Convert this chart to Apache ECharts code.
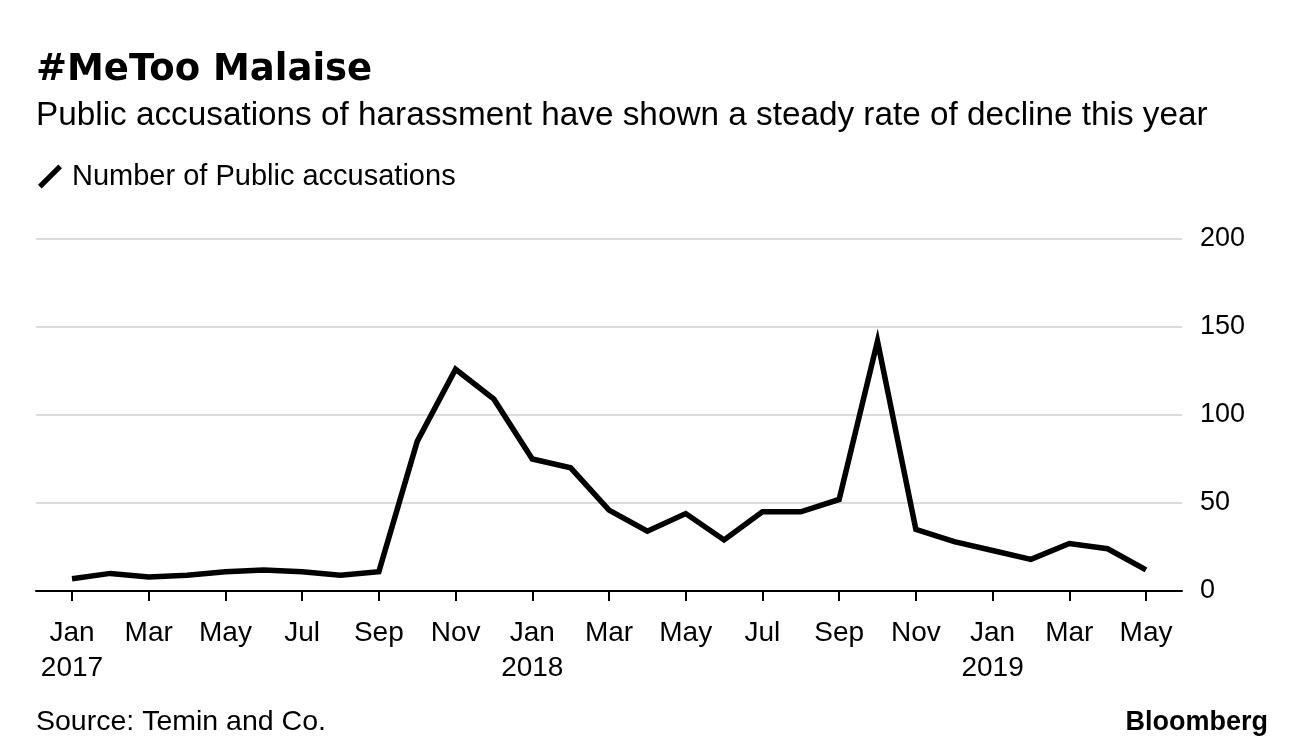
<!DOCTYPE html>
<html>
<head>
<meta charset="utf-8">
<script src="https://cdn.jsdelivr.net/npm/echarts@6/dist/echarts.min.js"></script>
<style>
html,body{margin:0;padding:0;background:#fff;}
#chart{width:1296px;height:754px;}
</style>
</head>
<body>
<div id="chart"></div>
<script>
const titleText = '#MeToo Malaise';
const subtitleText = 'Public accusations of harassment have shown a steady rate of decline this year';
const sourceText = 'Source: Temin and Co.';
const seriesName = 'Number of Public accusations';

const months = ['Jan 2017','Feb 2017','Mar 2017','Apr 2017','May 2017','Jun 2017','Jul 2017','Aug 2017','Sep 2017','Oct 2017','Nov 2017','Dec 2017',
  'Jan 2018','Feb 2018','Mar 2018','Apr 2018','May 2018','Jun 2018','Jul 2018','Aug 2018','Sep 2018','Oct 2018','Nov 2018','Dec 2018',
  'Jan 2019','Feb 2019','Mar 2019','Apr 2019','May 2019'];
const accusations = [7,10,8,9,11,12,11,9,11,85,126,109,
  75,70,46,34,44,29,45,45,52,142,35,28,
  23,18,27,24,12];
const xTickLabels = ['Jan\n2017','Mar','May','Jul','Sep','Nov','Jan\n2018','Mar','May','Jul','Sep','Nov','Jan\n2019','Mar','May'];
const xTickMonths = ['Jan 2017','Mar 2017','May 2017','Jul 2017','Sep 2017','Nov 2017','Jan 2018','Mar 2018','May 2018','Jul 2018','Sep 2018','Nov 2018','Jan 2019','Mar 2019','May 2019'];
const yTicks = [0,50,100,150,200];

const FONT = "'Liberation Sans', Arial, Helvetica, sans-serif";
const tickIdx = xTickMonths.map(m => months.indexOf(m));
const pad = 0.9385;

const chart = echarts.init(document.getElementById('chart'), null, {renderer:'canvas'});
chart.setOption({
  animation: false,
  backgroundColor: '#fff',
  textStyle: {fontFamily: FONT, color: '#000'},
  title: [
    {text: titleText, left: 36, top: 52, padding: 0,
     textStyle: {fontFamily: "'DejaVu Sans', sans-serif", fontWeight: 'bold', fontSize: 37, color: '#000'}},
    {text: subtitleText, left: 36, top: 99, padding: 0,
     textStyle: {fontFamily: FONT, fontWeight: 'normal', fontSize: 33.3, color: '#000'}},
    {text: sourceText, left: 36, top: 708, padding: 0,
     textStyle: {fontFamily: FONT, fontWeight: 'normal', fontSize: 28.5, color: '#000'}},
    {text: 'Bloomberg', right: 28, top: 709, padding: 0,
     textStyle: {fontFamily: FONT, fontWeight: 'bold', fontSize: 27, color: '#000'}}
  ],
  legend: {
    left: 38, top: 162, padding: 0,
    itemWidth: 24, itemHeight: 24,
    icon: 'path://M0.2,20.2 L20.2,0.2 L23.8,3.8 L3.8,23.8 Z',
    textStyle: {fontFamily: FONT, fontSize: 29, color: '#000', padding: [0,0,0,5]},
    data: [seriesName]
  },
  grid: {left: 36, right: 114, top: 239, bottom: 163},
  xAxis: {
    type: 'value',
    min: -pad, max: months.length - 1 + pad,
    splitLine: {show: false},
    axisLine: {lineStyle: {color: '#000', width: 2}},
    axisTick: {customValues: tickIdx, length: 10, lineStyle: {color: '#000', width: 2}},
    axisLabel: {
      customValues: tickIdx,
      formatter: v => xTickLabels[tickIdx.indexOf(Math.round(v))] || '',
      fontFamily: FONT, fontSize: 28, lineHeight: 35, margin: 25, color: '#000'
    }
  },
  yAxis: {
    type: 'value', position: 'right',
    min: yTicks[0], max: yTicks[yTicks.length - 1], interval: yTicks[1] - yTicks[0],
    axisLine: {show: false},
    axisTick: {show: false},
    splitLine: {lineStyle: {color: '#dcdcdc', width: 2}},
    axisLabel: {margin: 18, fontFamily: FONT, fontSize: 27, color: '#000', padding: [4,0,0,0]}
  },
  series: [{
    name: seriesName,
    type: 'line',
    data: accusations.map((v, i) => [i, v]),
    showSymbol: false,
    symbol: 'none',
    itemStyle: {color: '#000'},
    lineStyle: {color: '#000', width: 5.5, join: 'miter'}
  }]
});
</script>
</body>
</html>
